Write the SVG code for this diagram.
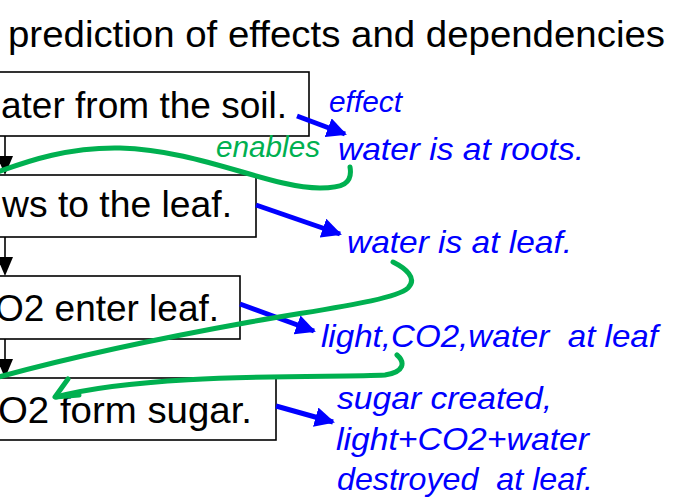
<svg xmlns="http://www.w3.org/2000/svg" width="680" height="500" viewBox="0 0 680 500">
<defs>
<style>
.box{fill:#fff;stroke:#000;stroke-width:1.6}
.bt{font-family:"Liberation Sans",Arial,sans-serif;font-size:37px;fill:#000}
.title{font-family:"Liberation Sans",Arial,sans-serif;font-size:37px;fill:#000}
.bl{font-family:"Liberation Sans",Arial,sans-serif;font-style:italic;fill:#0000ff;white-space:pre}
.gr{font-family:"Liberation Sans",Arial,sans-serif;font-style:italic;fill:#00b050}
.blk{stroke:#000;stroke-width:1.6;fill:none}
.blu{stroke:#0000ff;stroke-width:5;fill:none}
.grn{stroke:#00b050;stroke-width:5;fill:none;stroke-linecap:round;stroke-linejoin:round}
</style>
<marker id="ab" viewBox="0 0 10 10" refX="9" refY="5" markerWidth="4" markerHeight="4" markerUnits="strokeWidth" orient="auto">
<path d="M0,0 L10,5 L0,10 z" fill="#0000ff"/>
</marker>
</defs>
<text class="title" x="8" y="47" textLength="657" lengthAdjust="spacingAndGlyphs">prediction of effects and dependencies</text>
<g id="n1">
<rect class="box" x="-10" y="72" width="319" height="64"/>
<text class="bt" x="1" y="118" textLength="286" lengthAdjust="spacingAndGlyphs">ater from the soil.</text>
</g>
<g id="n2">
<rect class="box" x="-10" y="175" width="266" height="62"/>
<text class="bt" x="2" y="217" textLength="230" lengthAdjust="spacingAndGlyphs">ws to the leaf.</text>
</g>
<g id="n3">
<rect class="box" x="-10" y="276" width="250" height="63"/>
<text class="bt" x="-5" y="321" textLength="224" lengthAdjust="spacingAndGlyphs">O2 enter leaf.</text>
</g>
<g id="n4">
<rect class="box" x="-10" y="378" width="286" height="62"/>
<text class="bt" x="-2" y="423" textLength="254" lengthAdjust="spacingAndGlyphs">O2 form sugar.</text>
</g>
<g id="e1"><text class="bl" x="329" y="112" font-size="29" textLength="73" lengthAdjust="spacingAndGlyphs">effect</text></g>
<g id="e2"><text class="bl" x="338" y="160" font-size="32" textLength="246" lengthAdjust="spacingAndGlyphs">water is at roots.</text></g>
<g id="e3"><text class="bl" x="347" y="253" font-size="32" textLength="225" lengthAdjust="spacingAndGlyphs">water is at leaf.</text></g>
<g id="e4"><text class="bl" x="321" y="347" font-size="32" textLength="337" lengthAdjust="spacingAndGlyphs">light,CO2,water  at leaf</text></g>
<g id="e5">
<text class="bl" x="337" y="409" font-size="32" textLength="215" lengthAdjust="spacingAndGlyphs">sugar created,</text>
<text class="bl" x="336" y="450" font-size="32" textLength="253" lengthAdjust="spacingAndGlyphs">light+CO2+water</text>
<text class="bl" x="337" y="490" font-size="32" textLength="256" lengthAdjust="spacingAndGlyphs">destroyed  at leaf.</text>
</g>
<g id="lbl"><text class="gr" x="216" y="157" font-size="29" textLength="104" lengthAdjust="spacingAndGlyphs">enables</text></g>
<g id="connectors">
<line class="blk" x1="5" y1="136" x2="5" y2="160"/>
<polygon points="-3,156 13,156 5,175" fill="#000"/>
<line class="blk" x1="5" y1="237" x2="5" y2="260"/>
<polygon points="-3,257 13,257 5,276" fill="#000"/>
<line class="blk" x1="5" y1="339" x2="5" y2="362"/>
<polygon points="-3,359 13,359 5,378" fill="#000"/>
<line class="blu" x1="297" y1="116" x2="345" y2="134" marker-end="url(#ab)"/>
<line class="blu" x1="256" y1="205" x2="340" y2="234" marker-end="url(#ab)"/>
<line class="blu" x1="240" y1="304" x2="314" y2="331" marker-end="url(#ab)"/>
<line class="blu" x1="276" y1="406" x2="333" y2="422" marker-end="url(#ab)"/>
<path class="grn" d="M350,167 C353,184 342,188 320,188 C270,188 200,150 120,148 C70,147 30,160 -5,173"/>
<path class="grn" d="M393,262 C405,268 418,278 408,288 C395,300 330,308 250,322 C150,340 60,360 -5,378"/>
<path class="grn" d="M397,355 C405,362 405,372 385,375 C330,378 150,372 56,397"/>
<path class="grn" d="M68,379 L55,397 L79,395"/>
</g>
</svg>
